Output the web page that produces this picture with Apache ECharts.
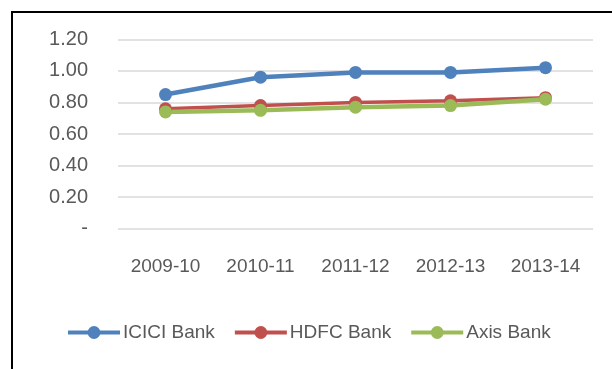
<!DOCTYPE html>
<html>
<head>
<meta charset="utf-8">
<script src="https://cdn.jsdelivr.net/npm/echarts@6/dist/echarts.min.js"></script>
<style>
html,body{margin:0;padding:0;background:#fff;}
#c{width:612px;height:369px;}
</style>
</head>
<body>
<div id="c"></div>
<script>
const categories = ['2009-10', '2010-11', '2011-12', '2012-13', '2013-14'];
const icici = [0.85, 0.96, 0.99, 0.99, 1.02];
const hdfc = [0.76, 0.78, 0.80, 0.81, 0.83];
const axis = [0.74, 0.75, 0.77, 0.78, 0.82];
const seriesNames = ['ICICI Bank', 'HDFC Bank', 'Axis Bank'];
const colors = ['#4F81BD', '#C0504D', '#9BBB59'];

const FONT = 'Liberation Sans';
const TXT = '#595959';

const chart = echarts.init(document.getElementById('c'), null, {renderer: 'canvas'});

function mk(name, data, color, width) {
  return {
    name: name,
    type: 'line',
    data: data,
    symbol: 'circle',
    symbolSize: 13,
    lineStyle: {color: color, width: width},
    itemStyle: {color: color},
    emphasis: {disabled: true},
    animation: false
  };
}

chart.setOption({
  backgroundColor: '#ffffff',
  animation: false,
  grid: {left: 118, right: 19, top: 39.3, bottom: 140.3, containLabel: false},
  xAxis: {
    type: 'category',
    data: categories,
    boundaryGap: true,
    axisLine: {show: false},
    axisTick: {show: false},
    axisLabel: {color: TXT, fontFamily: FONT, fontSize: 19, margin: 29, interval: 0, hideOverlap: false}
  },
  yAxis: {
    type: 'value',
    min: 0,
    max: 1.2,
    interval: 0.2,
    axisLine: {show: false},
    axisTick: {show: false},
    splitLine: {lineStyle: {color: '#D9D9D9', width: 1.5}},
    axisLabel: {
      color: TXT, fontFamily: FONT, fontSize: 20, margin: 30,
      formatter: function (v) { return Math.abs(v) < 1e-9 ? '-' : v.toFixed(2); }
    }
  },
  legend: {
    data: seriesNames,
    left: 61,
    top: 318,
    itemWidth: 52,
    itemHeight: 16,
    itemGap: 18,
    lineStyle: {width: 4},
    textStyle: {color: TXT, fontFamily: FONT, fontSize: 19, padding: [0, 0, 0, -2]}
  },
  graphic: [{
    type: 'rect',
    shape: {x: 12, y: 12, width: 700, height: 500},
    style: {fill: 'none', stroke: '#000000', lineWidth: 2},
    silent: true,
    z: 100
  }],
  series: [
    mk(seriesNames[0], icici, colors[0], 4.5),
    mk(seriesNames[1], hdfc, colors[1], 3.5),
    mk(seriesNames[2], axis, colors[2], 4.5)
  ]
});
</script>
</body>
</html>
